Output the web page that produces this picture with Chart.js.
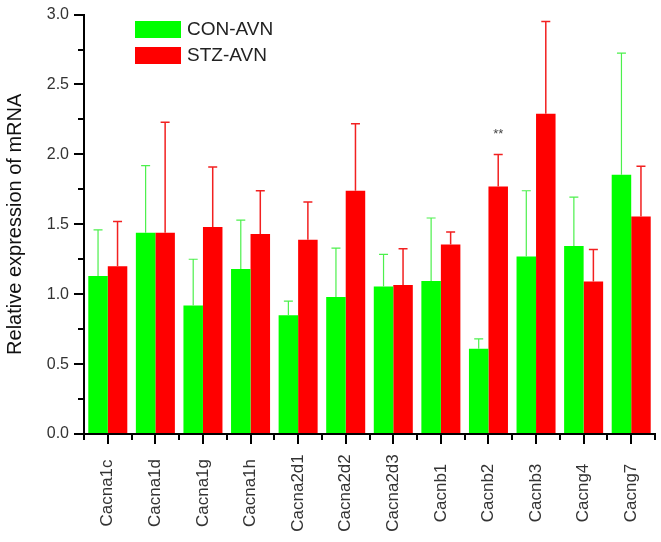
<!DOCTYPE html>
<html>
<head>
<meta charset="utf-8">
<script src="https://cdn.jsdelivr.net/npm/chart.js@4.4.0/dist/chart.umd.min.js"></script>
<style>
html, body { margin: 0; padding: 0; background: #fff; }
</style>
</head>
<body>
<canvas id="chart" width="661" height="542"></canvas>
<script>
// Data
const genes = ["Cacna1c", "Cacna1d", "Cacna1g", "Cacna1h", "Cacna2d1", "Cacna2d2", "Cacna2d3", "Cacnb1", "Cacnb2", "Cacnb3", "Cacng4", "Cacng7"];
const conMean = [1.13, 1.44, 0.92, 1.18, 0.85, 0.98, 1.055, 1.095, 0.61, 1.27, 1.345, 1.855];
const conErr = [0.33, 0.48, 0.33, 0.35, 0.10, 0.35, 0.23, 0.45, 0.07, 0.47, 0.35, 0.87];
const stzMean = [1.20, 1.44, 1.48, 1.43, 1.39, 1.74, 1.065, 1.355, 1.77, 2.29, 1.09, 1.555];
const stzErr = [0.32, 0.79, 0.43, 0.31, 0.27, 0.48, 0.26, 0.09, 0.23, 0.66, 0.23, 0.36];
const stzSig = ["", "", "", "", "", "", "", "", "**", "", "", ""];
const yTicks = [0, 0.5, 1.0, 1.5, 2.0, 2.5, 3.0];

const FONT = "'Liberation Sans', Arial, sans-serif";

// error bars, stars, minor ticks, rotated labels and legend
const decorPlugin = {
	id: "decor",
	afterDatasetsDraw(chart) {
		const ctx = chart.ctx;
		const y = chart.scales.y;
		const errs = [conErr, stzErr];
		const lineColors = ["#4cf04c", "#f22020"];
		chart.data.datasets.forEach((ds, di) => {
			const meta = chart.getDatasetMeta(di);
			meta.data.forEach((bar, i) => {
				const top = y.getPixelForValue(ds.data[i] + errs[di][i]);
				ctx.save();
				ctx.strokeStyle = lineColors[di];
				ctx.lineWidth = di === 0 ? 1.2 : 1.5;
				ctx.beginPath();
				ctx.moveTo(bar.x, bar.y);
				ctx.lineTo(bar.x, top);
				ctx.moveTo(bar.x - 4.5, top);
				ctx.lineTo(bar.x + 4.5, top);
				ctx.stroke();
				if (di === 1 && stzSig[i]) {
					ctx.fillStyle = "#444";
					ctx.font = "13px " + FONT;
					ctx.textAlign = "center";
					ctx.textBaseline = "middle";
					ctx.fillText(stzSig[i], bar.x, top - 20);
				}
				ctx.restore();
			});
		});
	},
	afterDraw(chart) {
		const ctx = chart.ctx;
		const x = chart.scales.x;
		const y = chart.scales.y;
		const area = chart.chartArea;
		ctx.save();
		ctx.strokeStyle = "#000";
		ctx.lineWidth = 2;
		ctx.beginPath();
		// minor y ticks
		for (let v = 0.25; v < 3; v += 0.5) {
			const py = Math.round(y.getPixelForValue(v));
			ctx.moveTo(area.left - 6, py);
			ctx.lineTo(area.left, py);
		}
		// minor x ticks at category boundaries
		const n = genes.length;
		for (let i = 0; i <= n; i++) {
			let px;
			if (i === 0) px = area.left;
			else if (i === n) px = area.right;
			else px = (x.getPixelForTick(i - 1) + x.getPixelForTick(i)) / 2;
			px = Math.round(px);
			ctx.moveTo(px, area.bottom);
			ctx.lineTo(px, area.bottom + 6);
		}
		ctx.stroke();

		// rotated category labels, centred
		ctx.fillStyle = "#333";
		ctx.font = "17px " + FONT;
		ctx.textAlign = "center";
		ctx.textBaseline = "middle";
		genes.forEach((g, i) => {
			ctx.save();
			ctx.translate(x.getPixelForTick(i), 493);
			ctx.rotate(-Math.PI / 2);
			ctx.fillText(g, 0, 0);
			ctx.restore();
		});

		// legend
		ctx.font = "19px " + FONT;
		ctx.textAlign = "left";
		chart.data.datasets.forEach((ds, i) => {
			ctx.fillStyle = ds.backgroundColor;
			ctx.fillRect(135, 21 + i * 26, 46, 17);
			ctx.fillStyle = "#222";
			ctx.fillText(ds.label, 187, 30 + i * 26);
		});
		ctx.restore();
	},
};

const ctx = document.getElementById("chart").getContext("2d");
const chart = new Chart(ctx, {
	type: "bar",
	data: {
		labels: genes,
		datasets: [
			{
				label: "CON-AVN",
				data: conMean,
				backgroundColor: "#00ff00",
				categoryPercentage: 0.82,
				barPercentage: 1.0,
			},
			{
				label: "STZ-AVN",
				data: stzMean,
				backgroundColor: "#ff0000",
				categoryPercentage: 0.82,
				barPercentage: 1.0,
			},
		],
	},
	options: {
		responsive: false,
		animation: false,
		devicePixelRatio: 1,
		layout: { padding: { top: 12, right: 6, left: 0, bottom: 0 } },
		plugins: {
			legend: { display: false },
			tooltip: { enabled: false },
		},
		scales: {
			x: {
				grid: {
					offset: false,
					drawOnChartArea: false,
					drawTicks: true,
					tickLength: 10,
					color: "#000",
					lineWidth: 2,
				},
				border: { display: true, color: "#000", width: 2 },
				ticks: { display: false },
				afterFit(scale) {
					scale.height = 108;
				},
			},
			y: {
				min: 0,
				max: 3,
				afterBuildTicks(scale) {
					scale.ticks = yTicks.map((v) => ({ value: v }));
				},
				grid: {
					drawOnChartArea: false,
					drawTicks: true,
					tickLength: 10,
					color: "#000",
					lineWidth: 2,
				},
				border: { display: true, color: "#000", width: 2 },
				ticks: {
					color: "#333",
					font: { family: FONT, size: 16 },
					padding: 5,
					callback: (v) => Number(v).toFixed(1),
				},
				title: {
					display: true,
					text: "Relative expression of mRNA",
					color: "#111",
					font: { family: FONT, size: 20 },
					padding: { top: 3, bottom: 0 },
				},
				afterFit(scale) {
					scale.width = 84;
				},
			},
		},
	},
	plugins: [decorPlugin],
});
</script>
</body>
</html>
